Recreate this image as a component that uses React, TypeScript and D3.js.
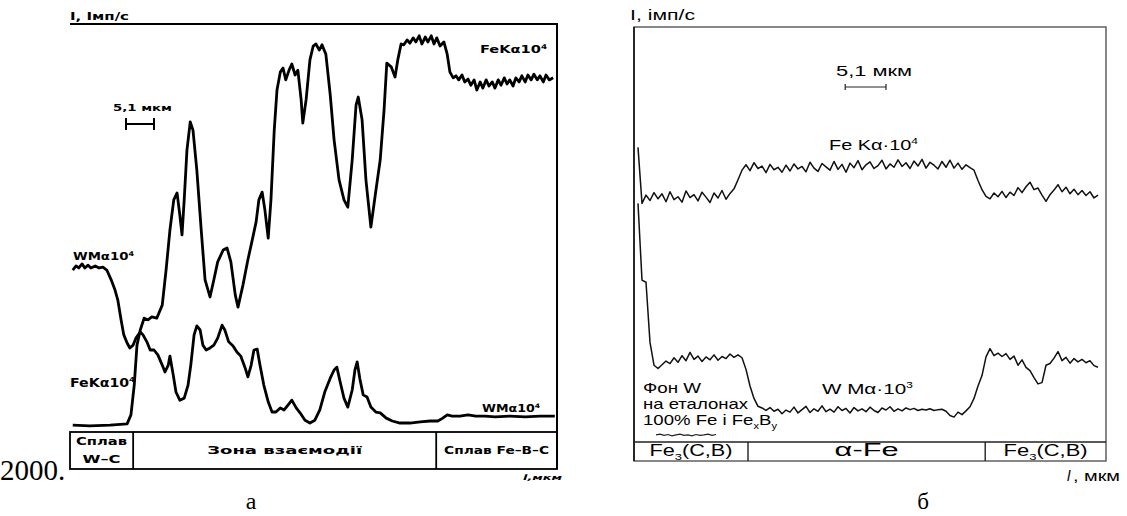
import React, { useEffect, useRef } from "react";
import * as d3 from "d3";

// panel "а": scan across the W-C / Fe-B-C joint. x in мкм, intensity in relative units (0..100)
const feLeft: [number, number][] = [
  [0.5, 1.7], [3.6, 1.5], [7.3, 1.7], [10.4, 2.0], [11.1, 4.2], [11.7, 11.5], [12.2, 21.3], [12.8, 25.0],
  [13.5, 27.9], [14.2, 27.5], [14.9, 28.2], [15.8, 27.9], [16.8, 31.1], [17.5, 39.7], [18.2, 49.5], [18.9, 56.9],
  [19.5, 58.6], [20.0, 53.2], [20.4, 48.3], [20.8, 56.9], [21.3, 69.1], [21.9, 76.0], [22.4, 74.0], [23.1, 64.2],
  [23.9, 49.5], [24.6, 37.3], [25.5, 33.1], [26.2, 37.3], [26.9, 41.7], [27.9, 44.6], [28.6, 45.1], [29.3, 41.7],
  [30.1, 33.6], [30.6, 30.6], [31.5, 36.0], [32.4, 42.2], [33.2, 47.1], [33.9, 51.5], [34.4, 56.9], [35.0, 58.8],
  [35.5, 54.4], [36.1, 47.5], [36.6, 56.9], [37.2, 74.0], [37.7, 83.8], [38.3, 88.2], [38.8, 89.2], [39.3, 86.3],
  [39.9, 88.7], [40.4, 90.2], [41.0, 87.5], [41.5, 88.7], [42.1, 81.4], [42.4, 75.7], [43.0, 81.4], [43.7, 91.2],
  [44.3, 94.6], [44.8, 95.1], [45.4, 93.6], [45.9, 94.9], [46.6, 92.6], [47.4, 82.6], [48.1, 71.6], [49.0, 61.8],
  [49.9, 56.9], [50.6, 55.1], [51.4, 66.7], [52.1, 80.1], [52.5, 82.1], [53.2, 76.5], [53.9, 61.8], [54.8, 50.2],
  [55.6, 58.1], [56.5, 66.7], [57.2, 78.9], [57.7, 90.4], [58.5, 89.5], [59.2, 87.0], [59.7, 91.2], [60.3, 95.1],
  [60.8, 94.9], [61.4, 96.1], [61.9, 95.3], [62.5, 96.6], [63.0, 95.6], [63.6, 97.1], [64.1, 95.1], [64.7, 96.8],
  [65.2, 95.6], [65.8, 97.1], [66.3, 95.1], [66.8, 96.6], [67.4, 94.6], [68.1, 95.6], [68.7, 92.6], [69.2, 88.2],
  [69.8, 86.8], [70.3, 87.3], [70.8, 86.3], [71.4, 87.5], [71.9, 85.8], [72.5, 86.5], [73.0, 85.0], [73.6, 86.3],
  [74.1, 83.8], [74.7, 85.8], [75.2, 84.3], [75.8, 86.3], [76.3, 84.8], [76.9, 85.8], [77.4, 84.3], [78.0, 86.3],
  [78.5, 85.0], [79.1, 86.8], [79.6, 85.3], [80.1, 86.3], [80.7, 84.8], [81.2, 86.8], [81.8, 85.8], [82.3, 87.3],
  [82.9, 85.8], [83.4, 87.5], [84.0, 86.3], [84.5, 87.7], [85.1, 86.3], [85.6, 87.3], [86.2, 85.8], [86.7, 87.5],
  [87.3, 86.3], [88.0, 86.8],
];

const wLeft: [number, number][] = [
  [0.5, 39.7], [1.1, 40.7], [1.6, 40.2], [2.2, 41.2], [2.7, 40.2], [3.3, 40.9], [3.8, 40.2], [4.6, 40.7],
  [5.3, 40.2], [6.0, 40.4], [6.7, 39.7], [7.5, 37.3], [8.2, 34.8], [8.7, 32.4], [9.3, 27.5], [9.8, 23.8],
  [10.4, 21.8], [10.9, 20.6], [11.5, 21.3], [12.0, 23.0], [12.8, 24.5], [13.3, 23.8], [14.0, 22.1], [14.6, 20.1],
  [15.3, 20.1], [16.0, 18.9], [16.8, 16.4], [17.3, 14.7], [17.9, 16.4], [18.2, 18.6], [18.8, 14.0], [19.3, 9.8],
  [20.0, 7.8], [20.8, 8.3], [21.5, 11.5], [22.0, 16.4], [22.6, 23.8], [23.1, 26.0], [23.7, 25.0], [24.2, 21.3],
  [24.8, 20.1], [25.5, 20.6], [26.2, 21.3], [26.9, 23.0], [27.7, 26.2], [28.2, 25.0], [28.9, 22.1], [29.7, 21.1],
  [30.4, 19.6], [31.1, 18.6], [31.9, 15.7], [32.4, 13.5], [33.0, 16.4], [33.5, 20.1], [34.1, 20.3], [34.6, 16.4],
  [35.3, 11.5], [36.1, 7.4], [36.8, 4.9], [37.5, 4.9], [38.3, 5.9], [39.0, 5.4], [39.7, 6.6], [40.4, 7.8],
  [41.2, 5.9], [41.9, 4.7], [42.8, 2.9], [43.7, 2.2], [44.6, 2.9], [45.5, 5.4], [46.4, 9.8], [47.4, 13.2],
  [48.1, 15.2], [48.6, 15.9], [49.2, 12.3], [49.9, 8.3], [50.6, 6.1], [51.4, 10.3], [51.9, 15.2], [52.3, 17.2],
  [52.8, 13.0], [53.4, 9.1], [54.1, 8.6], [54.8, 6.1], [55.7, 4.9], [56.5, 4.7], [57.6, 3.4], [58.7, 2.7],
  [60.1, 2.2], [61.9, 2.2], [63.8, 2.5], [65.6, 2.7], [67.0, 2.7], [67.9, 3.4], [68.7, 4.2], [69.6, 3.9],
  [71.0, 3.9], [72.5, 4.2], [73.9, 3.9], [75.6, 3.9], [77.4, 3.7], [80.1, 3.9], [82.9, 3.7], [85.6, 3.9],
  [88.3, 3.9],
];

const leftZones = [
  { lines: ["Сплав", "W–C"], from: 0, to: 11.5 },
  { lines: ["Зона взаємодії"], from: 11.5, to: 66.7 },
  { lines: ["Сплав Fe–B–C"], from: 66.7, to: 88.7 },
];

// panel "б": scan step 0.5 мкм starting at 0.5 мкм
const scanStep = 0.5;
const feRight = [
  71.0, 57.5, 59.5, 58.2, 60.1, 58.6, 59.8, 57.9, 60.3, 58.4, 59.1, 57.8, 60.5, 58.9, 59.6, 58.1,
  60.2, 59.0, 57.7, 60.0, 58.8, 60.6, 58.5, 59.9, 61.0, 63.2, 65.5, 66.8, 65.4, 67.3, 65.9, 66.5,
  64.9, 66.9, 65.6, 66.2, 65.0, 66.7, 65.3, 67.0, 65.8, 66.4, 65.1, 67.4, 66.0, 65.2, 67.1, 66.3,
  65.5, 67.6, 65.7, 66.9, 65.0, 67.2, 66.1, 67.8, 65.6, 66.8, 67.5, 65.9, 66.6, 67.9, 65.8, 67.0,
  66.2, 68.0, 66.4, 67.3, 65.9, 67.7, 66.5, 68.1, 66.0, 67.4, 66.7, 65.8, 67.6, 66.2, 67.9, 66.0,
  67.2, 65.7, 66.8, 66.1, 65.5, 63.0, 60.8, 59.2, 58.6, 60.0, 59.1, 60.4, 58.9, 60.2, 59.4, 61.3,
  60.1, 61.5, 62.6, 60.8, 61.2, 59.5, 58.0, 59.6, 60.7, 62.0, 60.3, 61.4, 59.8, 60.9, 59.6, 60.6,
  59.4, 60.3, 58.8, 59.5,
];
const wRight = [
  57.5, 39.0, 38.5, 24.0, 18.5, 17.7, 18.6, 19.5, 18.9, 20.3, 19.2, 20.8, 19.6, 21.6, 19.9, 20.7,
  19.4, 20.5, 19.8, 21.0, 19.7, 20.6, 20.1, 21.2, 20.4, 21.0, 20.3, 17.5, 13.5, 10.5, 8.6, 8.2,
  7.6, 8.3, 7.4, 7.9, 6.8, 7.7, 7.2, 8.4, 7.0, 7.8, 8.6, 7.1, 8.0, 7.4, 8.7, 7.3,
  7.9, 7.2, 8.5, 7.6, 8.1, 7.0, 8.3, 7.5, 8.0, 7.3, 8.4, 7.6, 7.1, 8.2, 7.7, 8.5,
  7.4, 8.0, 7.5, 8.2, 7.8, 8.1, 7.6, 7.9, 7.7, 8.0, 7.6, 7.8, 7.9, 7.4, 6.4, 6.0,
  7.2, 6.6, 7.5, 8.5, 10.5, 13.5, 16.0, 20.5, 22.5, 20.8, 21.4, 20.6, 21.3, 19.9, 20.7, 18.5,
  19.8, 18.0, 17.2, 15.5, 14.0, 14.3, 18.5, 18.9, 20.2, 21.8, 19.6, 20.4, 19.0, 20.1, 19.3, 19.9,
  19.1, 19.6, 18.4, 18.0,
];
const bgWavy = [1.7, 1.9, 1.6, 1.8, 1.5, 1.7, 1.9, 1.6, 1.7, 1.5, 1.8, 1.6, 1.7, 1.9, 1.6, 1.8];

const rightZones = [
  { name: "Fe", sub: "3", rest: "(C,B)", from: 0, to: 14.25, w: 83 },
  { name: "α-Fe", sub: "", rest: "", from: 14.25, to: 43.9, w: 64 },
  { name: "Fe", sub: "3", rest: "(C,B)", from: 43.9, to: 59, w: 84 },
];

type Part = { t: string; sup?: boolean; sub?: boolean };

function label(g: any, x: number, y: number, parts: Part[], size: number, opts: any = {}) {
  const t = g.append("text").attr("x", x).attr("y", y).attr("font-size", size)
    .attr("text-anchor", opts.anchor || "start");
  if (opts.length) t.attr("textLength", opts.length).attr("lengthAdjust", opts.adjust || "spacingAndGlyphs");
  if (opts.italic) t.attr("font-style", "italic");
  let shift = 0;
  parts.forEach((p) => {
    const want = p.sup ? -size * 0.4 : p.sub ? size * 0.25 : 0;
    t.append("tspan").attr("dy", want - shift)
      .attr("font-size", p.sup || p.sub ? size * 0.6 : size).text(p.t);
    shift = want;
  });
  return t;
}

export default function App() {
  const ref = useRef<SVGSVGElement>(null);

  useEffect(() => {
    const svg = d3.select(ref.current);
    svg.selectAll("*").remove();

    // page leftovers
    svg.append("text").attr("x", 0).attr("y", 480).attr("font-family", "Liberation Serif")
      .attr("font-size", 29).text("2000.");
    svg.append("text").attr("x", 251).attr("y", 509).attr("font-family", "Liberation Serif")
      .attr("font-size", 24).attr("text-anchor", "middle").text("а");
    svg.append("text").attr("x", 923).attr("y", 509).attr("font-family", "Liberation Serif")
      .attr("font-size", 23).attr("text-anchor", "middle").text("б");

    // ---------- panel а ----------
    const xa = d3.scaleLinear().domain([0, 88.7]).range([70, 557]);
    const ya = d3.scaleLinear().domain([0, 100]).range([432, 24]);
    const ga = svg.append("g").attr("font-family", "DejaVu Sans").attr("font-weight", 700);
    const lineA = d3.line<[number, number]>().x((d) => xa(d[0])).y((d) => ya(d[1]));

    ga.append("path").attr("d", `M${xa(0)},${ya(100)}H${xa(88.7)}V469`)
      .attr("fill", "none").attr("stroke", "#000").attr("stroke-width", 2);
    ga.append("rect").attr("x", xa(0)).attr("y", ya(0)).attr("width", xa(88.7) - xa(0))
      .attr("height", 469 - ya(0)).attr("fill", "none").attr("stroke", "#000").attr("stroke-width", 1.8);
    leftZones.slice(1).forEach((z) => {
      ga.append("line").attr("x1", xa(z.from)).attr("x2", xa(z.from)).attr("y1", ya(0)).attr("y2", 469)
        .attr("stroke", "#000").attr("stroke-width", 1.8);
    });
    const zoneW = [38, 155, 105];
    leftZones.forEach((z, i) => {
      const cx = (xa(z.from) + xa(z.to)) / 2;
      if (z.lines.length === 2) {
        label(ga, cx, 445, [{ t: z.lines[0] }], 10, { anchor: "middle", length: 51 });
        label(ga, cx, 463, [{ t: z.lines[1] }], 10, { anchor: "middle", length: 38 });
      } else {
        label(ga, cx, 454, [{ t: z.lines[0] }], 10.5, { anchor: "middle", length: zoneW[i] });
      }
    });

    ga.append("path").datum(feLeft).attr("d", lineA).attr("fill", "none").attr("stroke", "#000")
      .attr("stroke-width", 2.8).attr("stroke-linejoin", "round");
    ga.append("path").datum(wLeft).attr("d", lineA).attr("fill", "none").attr("stroke", "#000")
      .attr("stroke-width", 2.8).attr("stroke-linejoin", "round");

    label(ga, 70, 20, [{ t: "I,  Імп/с" }], 10, { length: 59 });
    label(ga, 113, 111, [{ t: "5,1  мкм" }], 8, { length: 59 });
    const sb0 = 10.2;
    ga.append("line").attr("x1", xa(sb0)).attr("x2", xa(sb0 + 5.1)).attr("y1", 124).attr("y2", 124)
      .attr("stroke", "#000").attr("stroke-width", 2);
    [sb0, sb0 + 5.1].forEach((v) => {
      ga.append("line").attr("x1", xa(v)).attr("x2", xa(v)).attr("y1", 118).attr("y2", 130)
        .attr("stroke", "#000").attr("stroke-width", 2);
    });
    label(ga, 480, 53, [{ t: "FeKα10" }, { t: "4", sup: true }], 11, { length: 67 });
    label(ga, 73, 260, [{ t: "WMα10" }, { t: "4", sup: true }], 11, { length: 61 });
    label(ga, 70, 387, [{ t: "FeKα10" }, { t: "4", sup: true }], 11.5, { length: 65 });
    label(ga, 482, 412, [{ t: "WMα10" }, { t: "4", sup: true }], 10.5, { length: 58 });
    label(ga, 523, 480, [{ t: "l,мкм" }], 7.5, { length: 39, italic: true });

    // ---------- panel б ----------
    const xb = d3.scaleLinear().domain([0, 59]).range([634, 1106]);
    const yb = d3.scaleLinear().domain([0, 100]).range([442, 27]);
    const gb = svg.append("g").attr("font-family", "Liberation Sans");
    const lineB = d3.line<number>().x((_, i) => xb(scanStep + i * scanStep)).y((d) => yb(d));

    gb.append("rect").attr("x", xb(0)).attr("y", yb(100)).attr("width", xb(59) - xb(0))
      .attr("height", 461 - yb(100)).attr("fill", "none").attr("stroke", "#555").attr("stroke-width", 1.4);
    gb.append("line").attr("x1", xb(0)).attr("x2", xb(0)).attr("y1", yb(100)).attr("y2", 461)
      .attr("stroke", "#111").attr("stroke-width", 1.6);
    gb.append("line").attr("x1", xb(0)).attr("x2", xb(59)).attr("y1", yb(0)).attr("y2", yb(0))
      .attr("stroke", "#222").attr("stroke-width", 1.4);
    rightZones.slice(1).forEach((z) => {
      gb.append("line").attr("x1", xb(z.from)).attr("x2", xb(z.from)).attr("y1", yb(0)).attr("y2", 461)
        .attr("stroke", "#222").attr("stroke-width", 1.4);
    });
    rightZones.forEach((z) => {
      const cx = (xb(z.from) + xb(z.to)) / 2;
      const parts: Part[] = [{ t: z.name }];
      if (z.sub) parts.push({ t: z.sub, sub: true }, { t: z.rest });
      label(gb, cx, 456, parts, z.sub ? 16 : 18, { anchor: "middle", length: z.w });
    });

    gb.append("path").datum(feRight).attr("d", lineB).attr("fill", "none").attr("stroke", "#111")
      .attr("stroke-width", 1.5).attr("stroke-linejoin", "round");
    gb.append("path").datum(wRight).attr("d", lineB).attr("fill", "none").attr("stroke", "#111")
      .attr("stroke-width", 1.5).attr("stroke-linejoin", "round");

    label(gb, 630, 20, [{ t: "I, імп/с" }], 15, { length: 65 });
    label(gb, 1067, 481, [{ t: "l" }], 15, { italic: true });
    label(gb, 1073, 481, [{ t: ", мкм" }], 15, { length: 47 });
    const sb1 = 26.4;
    gb.append("line").attr("x1", xb(sb1)).attr("x2", xb(sb1 + 5.1)).attr("y1", 87).attr("y2", 87)
      .attr("stroke", "#222").attr("stroke-width", 1.2);
    [sb1, sb1 + 5.1].forEach((v) => {
      gb.append("line").attr("x1", xb(v)).attr("x2", xb(v)).attr("y1", 84).attr("y2", 90)
        .attr("stroke", "#222").attr("stroke-width", 1.2);
    });
    label(gb, 836, 76, [{ t: "5,1 мкм" }], 15, { length: 76 });
    label(gb, 829, 150, [{ t: "Fe Kα·10" }, { t: "4", sup: true }], 15, { length: 89 });
    label(gb, 822, 394, [{ t: "W Mα·10" }, { t: "3", sup: true }], 15, { length: 91 });
    label(gb, 643, 393, [{ t: "Фон W" }], 15, { length: 58 });
    label(gb, 643, 409, [{ t: "на еталонах" }], 15, { length: 105 });
    label(gb, 643, 425, [{ t: "100% Fe і Fe" }, { t: "x", sub: true }, { t: "B" }, { t: "y", sub: true }], 15, { length: 134 });
    const wx = d3.scaleLinear().domain([0, bgWavy.length - 1]).range([xb(2.75), xb(10.25)]);
    gb.append("path").datum(bgWavy)
      .attr("d", d3.line<number>().x((_, i) => wx(i)).y((d) => yb(d)))
      .attr("fill", "none").attr("stroke", "#222").attr("stroke-width", 1.2);
  }, []);

  return (
    <svg ref={ref} width={1127} height={516}
      style={{ position: "absolute", left: 0, top: 0, background: "#fff" }} />
  );
}
